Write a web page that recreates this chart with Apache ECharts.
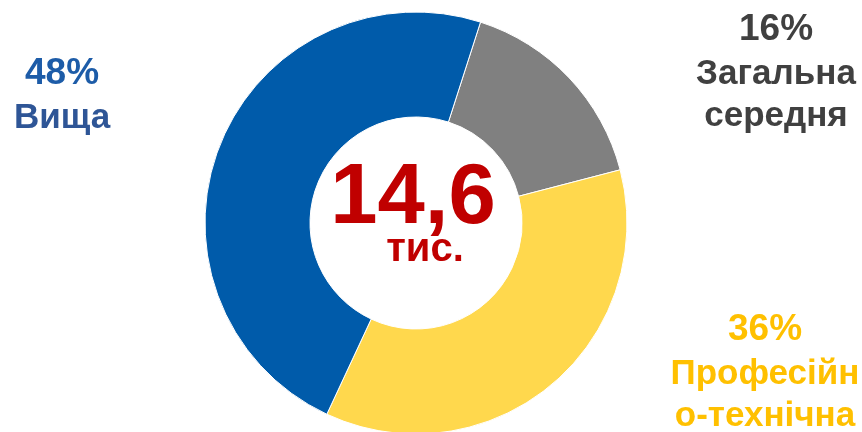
<!DOCTYPE html>
<html>
<head>
<meta charset="utf-8">
<script src="https://cdn.jsdelivr.net/npm/echarts@6/dist/echarts.min.js"></script>
<style>
    html, body { margin: 0; padding: 0; background: #fff; }
    #chart { width: 862px; height: 432px; }
</style>
</head>
<body>
<div id="chart"></div>
<script>
// data, clockwise from the gray slice
var categories = ['Загальна\nсередня', 'Професійн\nо-технічна', 'Вища'];
var shares = [16, 36, 48];
var totalText = '14,6';
var unitText = 'тис.';

var sliceColors = ['#808080', '#FFD84D', '#005BAA'];
var pctColors = ['#404040', '#FFC000', '#1D5CA8'];
var nameColors = ['#404040', '#FFC000', '#2E5596'];
// where each label block sits (center x, top y)
var labelPos = [[776, 7], [765, 307], [62, 51]];

var font = '"Liberation Sans", Arial, sans-serif';

var myChart = echarts.init(document.getElementById('chart'));

var data = categories.map(function (c, i) {
    return {
        name: c,
        value: shares[i],
        itemStyle: { color: sliceColors[i] },
        label: {
            rich: {
                p: { color: pctColors[i], fontSize: 37, fontWeight: 'bold', fontFamily: font, lineHeight: 46, align: 'center' },
                n: { color: nameColors[i], fontSize: 35, fontWeight: 'bold', fontFamily: font, lineHeight: 42, align: 'center' }
            }
        }
    };
});

var option = {
    animation: false,
    series: [
        {
            type: 'pie',
            center: [416, 223],
            radius: [106, 211],
            startAngle: 72.2,
            clockwise: true,
            silent: true,
            itemStyle: { borderColor: '#fff', borderWidth: 1 },
            label: {
                show: true,
                position: 'outside',
                formatter: '{p|{d}%}\n{n|{b}}'
            },
            labelLine: { show: false },
            labelLayout: function (params) {
                var p = labelPos[params.dataIndex];
                return { x: p[0], y: p[1], align: 'center', verticalAlign: 'top' };
            },
            data: data
        }
    ],
    graphic: [
        {
            type: 'text', x: 413, y: 200,
            style: { text: totalText, fill: '#C00000', font: 'bold 85px ' + font, textAlign: 'center', textVerticalAlign: 'middle' }
        },
        {
            type: 'text', x: 425, y: 250,
            style: { text: unitText, fill: '#C00000', font: 'bold 40px ' + font, textAlign: 'center', textVerticalAlign: 'middle' }
        }
    ]
};

myChart.setOption(option);
</script>
</body>
</html>
